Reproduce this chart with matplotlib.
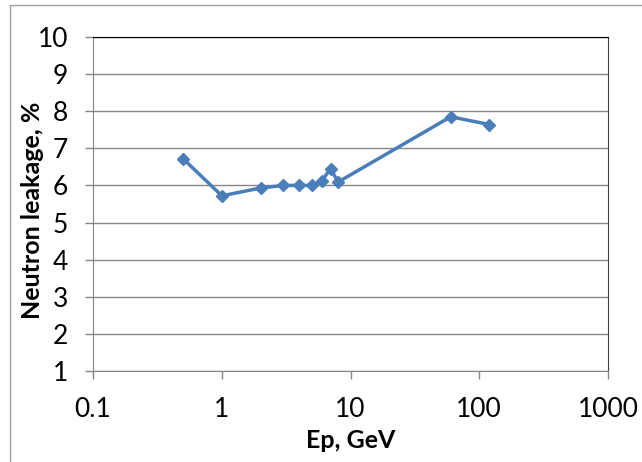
import matplotlib
matplotlib.use("Agg")
import matplotlib.pyplot as plt
from matplotlib.ticker import FixedLocator, FixedFormatter, NullLocator

plt.rcParams['font.family'] = ['Lato', 'DejaVu Sans']

ep = [0.5, 1, 2, 3, 4, 5, 6, 7, 8, 60, 120]
leakage = [6.72, 5.72, 5.93, 6.0, 6.0, 6.0, 6.13, 6.45, 6.09, 7.85, 7.64]
xticks = [0.1, 1, 10, 100, 1000]
xlabels = ['0.1', '1', '10', '100', '1000']

fig = plt.figure(figsize=(6.42, 4.62), dpi=100)
ax = fig.add_axes([0.145, 0.197, 0.802, 0.723])

# chart area border
fig.patches.append(plt.Rectangle((0.016, -0.01), 0.99, 0.999, transform=fig.transFigure,
                                 fill=False, edgecolor='#a0a0a0', linewidth=1))

ax.plot(ep, leakage, color='#4a7ebb', linewidth=2.5, marker='D', markersize=6,
        markerfacecolor='#4a7ebb', markeredgecolor='#4a7ebb')

ax.set_xscale('log')
ax.set_xlim(0.1, 1000)
ax.set_ylim(1, 10)
ax.xaxis.set_major_locator(FixedLocator(xticks))
ax.xaxis.set_major_formatter(FixedFormatter(xlabels))
ax.xaxis.set_minor_locator(NullLocator())
ax.set_yticks(range(1, 11))

ax.yaxis.grid(True, color='#868686', linewidth=1)
ax.set_axisbelow(True)
for s in ['left', 'bottom']:
    ax.spines[s].set_color('#868686')
ax.spines['top'].set_color('#000000')
ax.spines['right'].set_color('#404040')
ax.tick_params(axis='both', colors='#868686', labelcolor='black', length=6,
               width=1, labelsize=19, direction='out')
ax.tick_params(axis='x', pad=13)
ax.tick_params(axis='y', pad=12)

ax.set_xlabel('Ep, GeV', fontsize=18, fontweight='bold')
ax.set_ylabel('Neutron leakage, %', fontsize=18, fontweight='bold')
ax.xaxis.set_label_coords(0.5, -0.175)
ax.yaxis.set_label_coords(-0.095, 0.48)

fig.savefig('out.png', dpi=100)
